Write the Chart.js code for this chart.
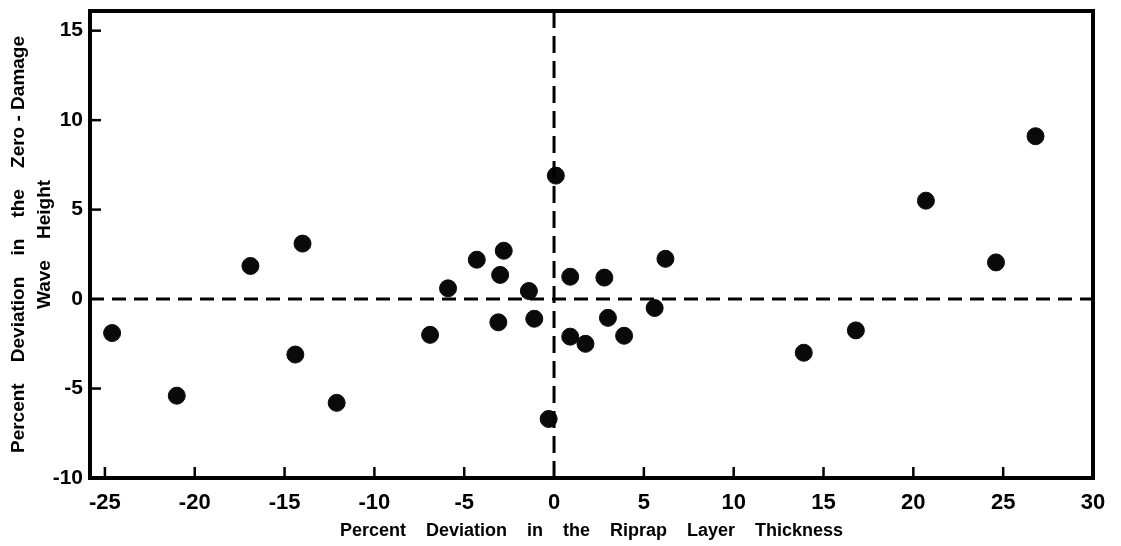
<!DOCTYPE html>
<html>
<head>
<meta charset="utf-8">
<script src="https://cdn.jsdelivr.net/npm/chart.js@4/dist/chart.umd.min.js"></script>
<style>
    html, body { margin: 0; padding: 0; background: #ffffff; }
    #wrap { width: 1121px; height: 546px; }
</style>
</head>
<body>
<div id="wrap"><canvas id="riprapChart" width="1121" height="546"></canvas></div>
<script>
// deviation in riprap layer thickness (%)
const thicknessDev = [
    -24.6, -21.0, -16.9, -14.0, -14.4, -12.1, -6.9, -5.9, -4.3, -2.8,
    -3.0, -3.1, -1.4, -1.1, 0.1, -0.3, 0.9, 0.9, 1.75, 2.8,
    3.0, 3.9, 5.6, 6.2, 13.9, 16.8, 20.7, 24.6, 26.8
];
// deviation in zero-damage wave height (%)
const waveHeightDev = [
    -1.9, -5.4, 1.85, 3.1, -3.1, -5.8, -2.0, 0.6, 2.2, 2.7,
    1.35, -1.3, 0.45, -1.1, 6.9, -6.7, 1.25, -2.1, -2.5, 1.2,
    -1.05, -2.05, -0.5, 2.25, -3.0, -1.75, 5.5, 2.05, 9.1
];

const xTicks = [-25, -20, -15, -10, -5, 0, 5, 10, 15, 20, 25, 30];
const yTicks = [-10, -5, 0, 5, 10, 15];

const FONT = "'Liberation Sans', Arial, sans-serif";

// frame, inward ticks and the dashed zero lines
const framePlugin = {
    id: 'frame',
    afterDatasetsDraw(chart) {
        const { ctx, chartArea: a, scales } = chart;
        ctx.save();
        ctx.strokeStyle = '#000';

        ctx.lineWidth = 3;
        ctx.setLineDash([14, 8]);
        const y0 = scales.y.getPixelForValue(0);
        ctx.beginPath();
        ctx.moveTo(a.left, y0);
        ctx.lineTo(a.right, y0);
        ctx.stroke();
        ctx.setLineDash([17, 8]);
        const x0 = scales.x.getPixelForValue(0);
        ctx.beginPath();
        ctx.moveTo(x0, a.top);
        ctx.lineTo(x0, a.bottom);
        ctx.stroke();
        ctx.setLineDash([]);

        ctx.lineWidth = 2.5;
        xTicks.forEach(v => {
            if (v === 0 || v === 30) return;
            const px = scales.x.getPixelForValue(v);
            ctx.beginPath();
            ctx.moveTo(px, a.bottom);
            ctx.lineTo(px, a.bottom - 11);
            ctx.stroke();
        });
        yTicks.forEach(v => {
            if (v === 0 || v === -10) return;
            const py = scales.y.getPixelForValue(v);
            ctx.beginPath();
            ctx.moveTo(a.left, py);
            ctx.lineTo(a.left + 11, py);
            ctx.stroke();
        });

        ctx.lineWidth = 4;
        ctx.strokeRect(a.left, a.top, a.right - a.left, a.bottom - a.top);
        ctx.restore();
    }
};

const ctx = document.getElementById('riprapChart').getContext('2d');
new Chart(ctx, {
    type: 'scatter',
    data: {
        datasets: [{
            data: thicknessDev.map((x, i) => ({ x, y: waveHeightDev[i] })),
            backgroundColor: '#0a0a0a',
            borderColor: '#0a0a0a',
            pointRadius: 8.5,
            pointHoverRadius: 8.5
        }]
    },
    options: {
        responsive: false,
        animation: false,
        layout: { padding: { top: 11, right: 28, left: 0, bottom: 0 } },
        plugins: {
            legend: { display: false },
            tooltip: { enabled: false }
        },
        scales: {
            x: {
                type: 'linear',
                min: -25.83,
                max: 30,
                afterBuildTicks: scale => { scale.ticks = xTicks.map(v => ({ value: v })); },
                afterFit: scale => {
                    scale.height = 68;
                    scale.paddingLeft = 0;
                    scale.paddingRight = 0;
                },
                grid: { display: false, drawTicks: false },
                border: { display: false },
                ticks: {
                    color: '#000',
                    padding: 12,
                    maxRotation: 0,
                    font: { family: FONT, size: 22, weight: 'bold' }
                },
                title: {
                    display: true,
                    text: 'Percent    Deviation    in    the    Riprap    Layer    Thickness',
                    color: '#000',
                    padding: { top: 0, bottom: 4 },
                    font: { family: FONT, size: 18, weight: 'bold' }
                }
            },
            y: {
                type: 'linear',
                min: -10,
                max: 16.1,
                afterBuildTicks: scale => { scale.ticks = yTicks.map(v => ({ value: v })); },
                afterFit: scale => {
                    scale.width = 90;
                    scale.paddingTop = 0;
                    scale.paddingBottom = 0;
                },
                grid: { display: false, drawTicks: false },
                border: { display: false },
                ticks: {
                    color: '#000',
                    padding: 7,
                    font: { family: FONT, size: 21, weight: 'bold' }
                },
                title: {
                    display: true,
                    text: ['Percent    Deviation    in    the    Zero - Damage', 'Wave    Height'],
                    color: '#000',
                    padding: { top: 6, bottom: 0 },
                    font: { family: FONT, size: 19, weight: 'bold', lineHeight: 1.35 }
                }
            }
        }
    },
    plugins: [framePlugin]
});
</script>
</body>
</html>
